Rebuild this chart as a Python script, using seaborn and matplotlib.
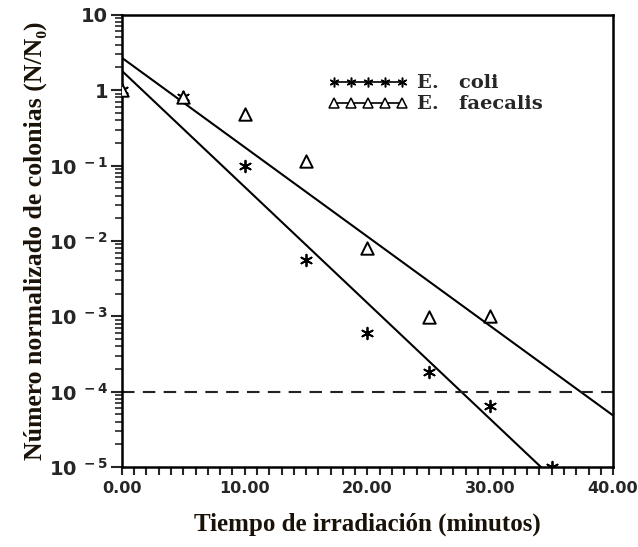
import numpy as np
import matplotlib
matplotlib.use('Agg')
import matplotlib.pyplot as plt
from matplotlib.lines import Line2D
import seaborn as sns

# tiempo de irradiacion (minutos) y N/N0
t_coli = [0, 5, 10, 15, 20, 25, 30, 35]
n_coli = [1.0, 0.8, 0.10, 0.0056, 0.0006, 0.00018, 0.000064, 0.00001]

t_faec = [0, 5, 10, 15, 20, 25, 30]
n_faec = [1.0, 0.8, 0.49, 0.115, 0.0081, 0.00098, 0.001]

limite = 1e-4  # limite de deteccion (linea discontinua)

y_exps = [-5, -4, -3, -2, -1, 0, 1]
y_labels = [r'$\mathbf{10^{\ -5}}$', r'$\mathbf{10^{\ -4}}$', r'$\mathbf{10^{\ -3}}$',
            r'$\mathbf{10^{\ -2}}$', r'$\mathbf{10^{\ -1}}$', '1', '10']
x_ticks = [0, 10, 20, 30, 40]
x_labels = ['0.00', '10.00', '20.00', '30.00', '40.00']

sns.set_style('ticks')
plt.rcParams['mathtext.fontset'] = 'dejavusans'
plt.rcParams['font.family'] = ['DejaVu Sans']

fig, ax = plt.subplots(figsize=(6.38, 5.47), dpi=100)
fig.subplots_adjust(left=0.191, right=0.961, top=0.973, bottom=0.146)

ax.set_xlim(0, 40)
ax.set_ylim(-5, 1)

# ajuste lineal en escala log10
sns.regplot(x=t_coli, y=np.log10(n_coli), ax=ax, ci=None, truncate=False,
            marker=(6, 2, 0),
            scatter_kws={'s': 70, 'linewidths': 1.3, 'color': 'black', 'alpha': 1, 'zorder': 3},
            line_kws={'color': 'black', 'linewidth': 1.5})
sns.regplot(x=t_faec, y=np.log10(n_faec), ax=ax, ci=None, truncate=False,
            marker='^',
            scatter_kws={'s': 80, 'linewidths': 1.4, 'color': 'black', 'facecolors': 'white',
                         'edgecolors': 'black', 'alpha': 1, 'zorder': 3},
            line_kws={'color': 'black', 'linewidth': 1.5})

ax.axhline(np.log10(limite), color='#222222', linewidth=1.5, dashes=(6, 4))

ax.set_xlim(0, 40)
ax.set_ylim(-5, 1)

ax.set_yticks(y_exps)
ax.set_yticklabels(y_labels, fontsize=14, fontweight='bold')
minor_y = [d + np.log10(k) for d in range(-5, 1) for k in range(2, 10)]
ax.set_yticks(minor_y, minor=True)

ax.set_xticks(x_ticks)
ax.set_xticklabels(x_labels, fontsize=11.5, fontweight='bold')
ax.set_xticks(np.arange(0, 41, 1), minor=True)

ax.tick_params(axis='y', which='major', direction='out', length=8, width=1.5, pad=2)
ax.tick_params(axis='y', which='minor', direction='out', length=5, width=1.2)
ax.tick_params(axis='x', which='both', direction='out', length=6, width=1.5, pad=4)

for s in ax.spines.values():
    s.set_linewidth(1.8)
    s.set_color('black')

ax.set_xlabel('Tiempo de irradiación (minutos)', fontsize=18, fontweight='bold',
              family=['Liberation Serif', 'DejaVu Serif'], labelpad=12, color='#1a1208')
ax.set_ylabel('Número normalizado de colonias (N/N₀)', fontsize=18.5, fontweight='bold',
              family=['Liberation Serif', 'DejaVu Serif'], labelpad=1, color='#1a1208')

handles = [
    Line2D([], [], color='black', linewidth=1.2, marker=(6, 2, 0), markersize=7,
           markeredgewidth=1.1),
    Line2D([], [], color='black', linewidth=1.2, marker='^', markersize=7,
           markerfacecolor='white', markeredgewidth=1.1),
]
leg = ax.legend(handles, ['E.   coli', 'E.   faecalis'], loc='upper left',
                bbox_to_anchor=(0.42, 0.868), frameon=False, numpoints=5,
                handlelength=4.1, handletextpad=0.45, labelspacing=0.15,
                borderpad=0, borderaxespad=0,
                prop={'family': 'DejaVu Serif', 'weight': 'bold', 'size': 14})

fig.savefig('out.png', dpi=100)
